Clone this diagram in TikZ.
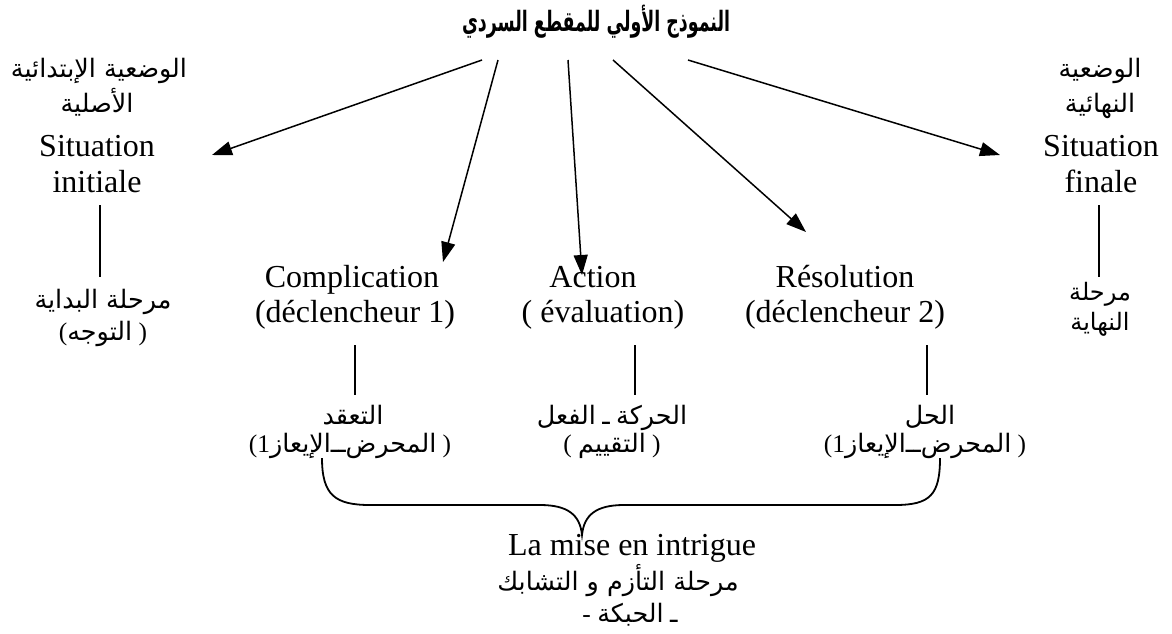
\documentclass[tikz,border=0pt]{standalone}
\usepackage{fontspec}
\usepackage{graphicx}
\usetikzlibrary{arrows.meta}
\setmainfont{Liberation Serif}
\newfontfamily\arfont[Script=Arabic]{DejaVu Sans}
\TeXXeTstate=1
\newcommand\AR[1]{\mbox{\arfont\beginR #1\endR}}
\begin{document}
\begin{tikzpicture}[x=0.5pt,y=-0.5pt,
  lat/.style={inner sep=0pt,anchor=base,font=\fontsize{16}{18}\selectfont},
  arab/.style={inner sep=0pt,anchor=base,font=\fontsize{12.7}{15}\selectfont},
  arsmall/.style={inner sep=0pt,anchor=base,font=\fontsize{12}{14}\selectfont},
  ttl/.style={inner sep=0pt,anchor=base,font=\fontsize{14}{16}\selectfont\bfseries},
  fan/.style={line width=0.75pt,-{Triangle[length=10pt,width=7pt]}},
  tie/.style={line width=0.9pt},
  brace/.style={line width=0.9pt}]
\useasboundingbox (0,0) rectangle (1172,633);

% heading
\node[ttl] (title) at (596,31) {\resizebox{134pt}{\height}{\AR{النموذج الأولي للمقطع السردي}}};

% initial situation column
\node[arab] (iniA) at (99,77)  {\AR{الوضعية الإبتدائية}};
\node[arab] (iniB) at (97,112) {\AR{الأصلية}};
\node[lat]  (iniC) at (97,156) {Situation};
\node[lat]  (iniD) at (97,192) {initiale};
\node[arab] (iniE) at (103,308) {\AR{مرحلة البداية}};
\node[arab] (iniF) at (103,340) {(\AR{التوجه} )};

% final situation column
\node[arab] (finA) at (1100,77)  {\AR{الوضعية}};
\node[arab] (finB) at (1100,112) {\AR{النهائية}};
\node[lat]  (finC) at (1101,156) {Situation};
\node[lat]  (finD) at (1101,192) {finale};
\node[arsmall] (finE) at (1100,300) {\AR{مرحلة}};
\node[arsmall] (finF) at (1100,330) {\AR{النهاية}};

% middle stages
\node[lat] (comA) at (352,287) {Complication};
\node[lat] (comB) at (355,322) {(déclencheur 1)};
\node[lat] (actA) at (593,287) {Action};
\node[lat] (actB) at (603,322) {( évaluation)};
\node[lat] (resA) at (845,287) {Résolution};
\node[lat] (resB) at (845,322) {(déclencheur 2)};

% mixed lines: pieces written left to right as they appear on the page
\node[arab] (comC) at (353,424) {\AR{التعقد}};
\node[arab] (comD) at (350,452) {(1\AR{الإيعاز}\AR{ــ}\AR{المحرض} )};
\node[arab] (actC) at (612,424) {\AR{الفعل}\ \AR{ـ}\ \AR{الحركة}};
\node[arab] (actD) at (612,452) {( \AR{التقييم} )};
\node[arab] (resC) at (930,424) {\AR{الحل}};
\node[arab] (resD) at (925,452) {(1\AR{الإيعاز}\AR{ــ}\AR{المحرض} )};

% plot section
\node[lat]  (pltA) at (632,555) {La mise en intrigue};
\node[arab] (pltB) at (618,590) {\AR{مرحلة التأزم و التشابك}};
\node[arab] (pltC) at (630,622) {-\ \AR{الحبكة}\ \AR{ـ}};

% fan of arrows below the heading
\coordinate (s1) at (482,60);  \coordinate (t1) at (212,155);
\coordinate (s2) at (498,60);  \coordinate (t2) at (443,262);
\coordinate (s3) at (568,60);  \coordinate (t3) at (582,275);
\coordinate (s4) at (613,60);  \coordinate (t4) at (806,232);
\coordinate (s5) at (688,60);  \coordinate (t5) at (1000,155);
\draw[fan] (s1) -- (t1);
\draw[fan] (s2) -- (t2);
\draw[fan] (s3) -- (t3);
\draw[fan] (s4) -- (t4);
\draw[fan] (s5) -- (t5);

% vertical ties between French and Arabic labels
\coordinate (v1a) at (100,205); \coordinate (v1b) at (100,277);
\coordinate (v2a) at (1099,205); \coordinate (v2b) at (1099,277);
\coordinate (v3a) at (355,345); \coordinate (v3b) at (355,395);
\coordinate (v4a) at (635,345); \coordinate (v4b) at (635,395);
\coordinate (v5a) at (927,345); \coordinate (v5b) at (927,395);
\draw[tie] (v1a) -- (v1b);
\draw[tie] (v2a) -- (v2b);
\draw[tie] (v3a) -- (v3b);
\draw[tie] (v4a) -- (v4b);
\draw[tie] (v5a) -- (v5b);

% curly brace grouping the three middle stages
\coordinate (bl) at (322,458);
\coordinate (br) at (940,458);
\coordinate (bt) at (582,535);
\draw[brace] (bl) .. controls (322,495) and (335,505) .. (370,505)
  -- (540,505) .. controls (568,505) and (580,515) .. (bt)
  .. controls (584,515) and (596,505) .. (624,505)
  -- (895,505) .. controls (930,505) and (940,495) .. (br);
\end{tikzpicture}
\end{document}
